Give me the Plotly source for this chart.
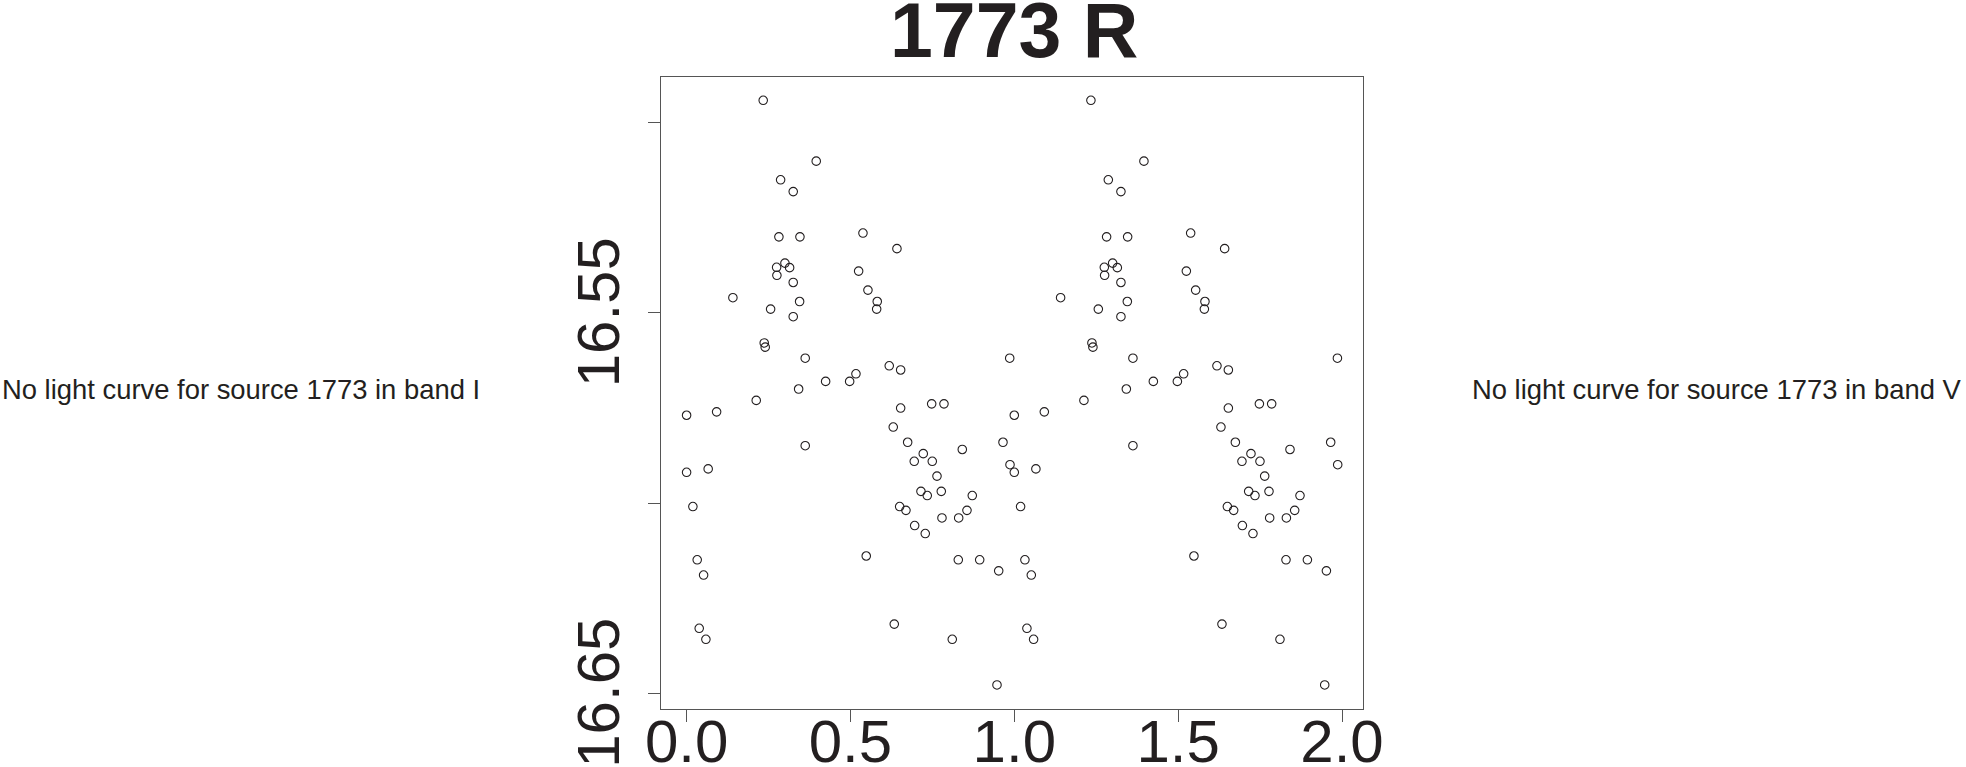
import plotly.graph_objects as go

# Phase (first cycle) and R magnitude
phase_cycle1 = [0.2338, 0.3956, 0.2869, 0.3254, 0.2817, 0.3459, 0.5382, 0.6419, 0.3001, 0.2747,
                0.3144, 0.2756, 0.5250, 0.3254, 0.1413, 0.5534, 0.3449, 0.5818, 0.2564, 0.5800,
                0.3254, 0.2369, 0.2399, 0.3620, 0.9860, 0.6184, 0.6532, 0.5168, 0.4243, 0.4976,
                0.3419, 0.2125, 0.7479, 0.7854, 0.6532, 0.0916, 0.0000, 0.3620, 0.6306, 0.6746,
                0.8413, 0.9655, 0.0000, 0.0659, 0.6947, 0.7222, 0.7497, 0.9869, 0.7641, 0.7152,
                0.7344, 0.7772, 0.8718, 0.0192, 0.6502, 0.6694, 0.8556, 0.7793, 0.8303, 0.6960,
                0.7283, 0.0324, 0.0519, 0.5482, 0.8291, 0.8944, 0.9524, 0.0385, 0.0589, 0.6337,
                0.8107, 0.9472]
phase_cycle2 = [1.2338, 1.3956, 1.2869, 1.3254, 1.2817, 1.3459, 1.5382, 1.6419, 1.3001, 1.2747,
                1.3144, 1.2756, 1.5250, 1.3254, 1.1413, 1.5534, 1.3449, 1.5818, 1.2564, 1.5800,
                1.3254, 1.2369, 1.2399, 1.3620, 1.9860, 1.6184, 1.6532, 1.5168, 1.4243, 1.4976,
                1.3419, 1.2125, 1.7479, 1.7854, 1.6532, 1.0916, 1.0000, 1.3620, 1.6306, 1.6746,
                1.8413, 1.9655, 1.0000, 1.0659, 1.6947, 1.7222, 1.7497, 1.9869, 1.7641, 1.7152,
                1.7344, 1.7772, 1.8718, 1.0192, 1.6502, 1.6694, 1.8556, 1.7793, 1.8303, 1.6960,
                1.7283, 1.0324, 1.0519, 1.5482, 1.8291, 1.8944, 1.9524, 1.0385, 1.0589, 1.6337,
                1.8107, 1.9472]
mag_r = [16.4941, 16.5101, 16.5150, 16.5181, 16.5300, 16.5300, 16.5290, 16.5331, 16.5369, 16.5380,
         16.5381, 16.5401, 16.5390, 16.5420, 16.5460, 16.5440, 16.5470, 16.5470, 16.5490, 16.5490,
         16.5510, 16.5579, 16.5590, 16.5619, 16.5619, 16.5639, 16.5650, 16.5660, 16.5680, 16.5680,
         16.5700, 16.5730, 16.5739, 16.5739, 16.5750, 16.5760, 16.5769, 16.5849, 16.5800, 16.5840,
         16.5859, 16.5840, 16.5919, 16.5910, 16.5890, 16.5870, 16.5890, 16.5899, 16.5929, 16.5969,
         16.5980, 16.5969, 16.5980, 16.6009, 16.6009, 16.6019, 16.6019, 16.6039, 16.6039, 16.6059,
         16.6080, 16.6149, 16.6189, 16.6139, 16.6149, 16.6149, 16.6178, 16.6329, 16.6358, 16.6318,
         16.6358, 16.6478]

x_tick_vals = [0.0, 0.5, 1.0, 1.5, 2.0]
x_tick_text = ["0.0", "0.5", "1.0", "1.5", "2.0"]
y_tick_vals = [16.50, 16.55, 16.60, 16.65]
y_tick_text = ["", "16.55", "", "16.65"]

title_text = "1773 R"
left_msg = "No light curve for source 1773 in band I"
right_msg = "No light curve for source 1773 in band V"

W, H = 1966, 767
FONT = "Liberation Sans, Arial, sans-serif"
INK = "#231f20"
FRAME = "#555555"

fig = go.Figure()
fig.add_trace(go.Scatter(
    x=phase_cycle1 + phase_cycle2,
    y=mag_r + mag_r,
    mode="markers",
    marker=dict(symbol="circle-open", size=8.5, color=INK, line=dict(width=1.1, color=INK)),
    showlegend=False,
    hoverinfo="skip",
))

fig.update_layout(
    width=W, height=H,
    margin=dict(l=0, r=0, t=0, b=0),
    paper_bgcolor="white", plot_bgcolor="white",
    font=dict(family=FONT, color=INK),
    xaxis=dict(
        domain=[660.7 / W, 1363.3 / W],
        range=[-0.079, 2.065],
        tickvals=x_tick_vals, ticktext=x_tick_text,
        tickfont=dict(size=60, family=FONT, color=INK),
        ticks="outside", ticklen=12, tickwidth=1, tickcolor=FRAME,
        ticklabelstandoff=-32, ticklabeloverflow="allow",
        showline=True, linecolor=FRAME, linewidth=1.2, mirror=True,
        showgrid=False, zeroline=False, automargin=False,
    ),
    yaxis=dict(
        domain=[1 - 709.3 / H, 1 - 76.7 / H],
        range=[16.6542, 16.4879],
        tickvals=y_tick_vals,
        # trailing no-break space re-centres the rotated label on its tick
        ticktext=[t + "\u00a0" if t else t for t in y_tick_text],
        tickangle=-90,
        tickfont=dict(size=60, family=FONT, color=INK),
        ticks="outside", ticklen=12, tickwidth=1, tickcolor=FRAME,
        ticklabelstandoff=5, ticklabeloverflow="allow",
        showline=True, linecolor=FRAME, linewidth=1.2, mirror=True,
        showgrid=False, zeroline=False, automargin=False,
    ),
    annotations=[
        dict(text="<b>" + title_text + "</b>", x=1014 / W, y=1 - 30.4 / H,
             xref="paper", yref="paper", xanchor="center", yanchor="middle",
             showarrow=False, font=dict(size=77, family=FONT, color=INK)),
        dict(text=left_msg, x=241 / W, y=1 - 389.5 / H,
             xref="paper", yref="paper", xanchor="center", yanchor="middle",
             showarrow=False, font=dict(size=27.4, family=FONT, color=INK)),
        dict(text=right_msg, x=1716.7 / W, y=1 - 389.5 / H,
             xref="paper", yref="paper", xanchor="center", yanchor="middle",
             showarrow=False, font=dict(size=27.4, family=FONT, color=INK)),
    ],
)

fig.write_html("out.html", config={"displayModeBar": False},
               post_script="document.body.style.margin='0px';document.body.style.overflow='hidden';")
